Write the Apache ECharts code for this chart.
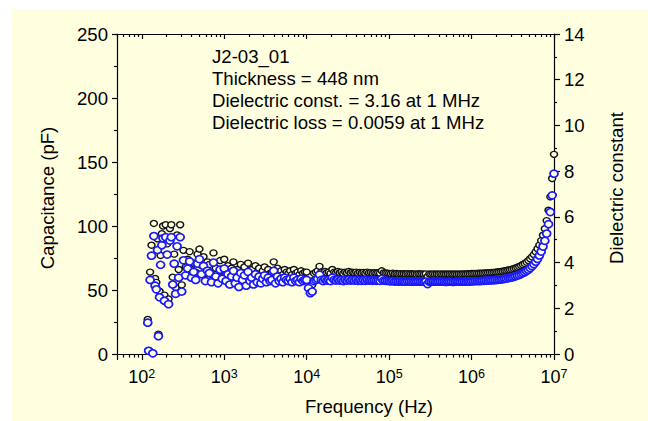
<!DOCTYPE html>
<html><head><meta charset="utf-8">
<script src="https://cdn.jsdelivr.net/npm/echarts@6/dist/echarts.min.js"></script>
<style>
html,body{margin:0;padding:0;background:#ffffff;width:648px;height:421px;overflow:hidden}
#c{position:absolute;left:12px;top:9px;width:636px;height:412px}
</style>
</head><body><div id="c"></div>
<script>
// Frequency (Hz)
const freq = [
 118,121,126,131,136,140,145,150,155,159,164,169,175,181,188,195,203,211,219,228,237,247,257,268,280,292,305,320,340,360,380,400,425,450,475,500,530,560,590,625,660,700,740,790,840,890,945,
 1000,1052,1108,1166,1227,1292,1359,1431,1506,1585,1668,1756,1848,1945,2047,2154,2268,2387,2512,2644,2783,2929,3083,3245,3415,3594,3783,3981,4190,4410,4642,4885,5142,5412,5696,5995,6310,6641,6989,7356,7743,8149,8577,9027,9501,
 10000,10520,11080,11660,12270,12920,13590,14310,15060,15850,16680,17560,18480,19450,20470,21540,22680,23870,25120,26440,27830,29290,30820,32440,34150,35940,37830,39810,41900,44100,46420,48850,51420,54120,56960,59950,63100,66410,69890,73560,77430,81490,85770,90270,95010,
 100000,105200,110800,116600,122700,129200,135900,143100,150600,158500,166800,175600,184800,194500,204700,215400,226800,238700,251200,264400,278300,292900,308200,324400,341500,359400,378300,398100,419000,441000,464200,488500,514200,541200,569600,599500,631000,664100,698900,735600,774300,814900,857700,902700,950100,
 1000000,1052000,1108000,1166000,1227000,1292000,1359000,1431000,1506000,1585000,1668000,1756000,1848000,1945000,2047000,2154000,2268000,2387000,2512000,2644000,2783000,2929000,3083000,3245000,3415000,3594000,3783000,3981000,4190000,4410000,4642000,4885000,5142000,5412000,5696000,5995000,6310000,6641000,6989000,7356000,7743000,8149000,8577000,9027000,9501000,10000000
];
// Capacitance (pF), left axis
const capacitance = [
 27,2.8,64,85,0.6,102,59,56,90,15.5,49,77,94,100,46,101,86,43,98,101,60,78,52,93,66,101,54,81,68,74,80,66,71,64,78,82,69,76,63,72,70,62,79,67,61,73,65,
 74,63,69,60,67,72,61,66,58,70,64,68,59,71,63,66,60,69,62,67,61,65,68,62,66,63,64,72,61,67,63,65,62,66,64,63,65,62,66,63,64,62,65,63,64,
 64,57,51,54,63,64,65,68.5,64,63,64.5,63.5,64,63,66,64,63.5,64.5,63.5,64,63,64,63.5,64.5,63.5,64,63.5,64,63.2,63.8,63.3,63.8,63.2,64,63.4,63.6,63.2,63.6,63.3,63.5,63.2,65,63.4,63.3,63.2,
 63,62.8,63.2,62.7,62.9,62.6,62.8,62.6,62.7,62.5,62.8,62.6,62.7,62.5,62.6,62.4,62.7,62.5,62.6,62.4,62.6,60.5,62.5,62.4,62.6,62.4,62.5,62.4,62.6,62.4,62.5,62.3,62.5,62.4,62.5,62.3,62.5,62.4,62.5,62.4,62.5,62.6,62.5,62.7,62.6,
 62.9,62.9,63.0,63.0,63.1,63.1,63.2,63.3,63.4,63.5,63.6,63.7,63.8,64.0,64.1,64.3,64.5,64.7,65.0,65.2,65.6,65.9,66.3,66.7,67.2,67.8,68.4,69.1,69.9,70.8,71.8,73.0,74.4,75.9,77.7,79.8,82.2,85.1,88.6,92.8,97.9,104.2,112.3,122.8,137.1,156
];
// Dielectric constant, right axis
const dielectric = [
 1.37,0.14,3.24,4.30,0.03,5.16,2.99,2.83,4.55,0.78,2.48,3.90,4.76,5.06,2.33,5.11,4.35,2.18,4.96,5.11,3.04,3.95,2.63,4.71,3.34,5.11,2.73,4.10,3.44,3.74,4.05,3.34,3.59,3.24,3.95,4.15,3.49,3.85,3.19,3.64,3.54,3.14,4.00,3.39,3.09,3.69,3.29,
 3.74,3.19,3.49,3.04,3.39,3.64,3.09,3.34,2.93,3.54,3.24,3.44,2.99,3.59,3.19,3.34,3.04,3.49,3.14,3.39,3.09,3.29,3.44,3.14,3.34,3.19,3.24,3.64,3.09,3.39,3.19,3.29,3.14,3.34,3.24,3.19,3.29,3.14,3.34,3.19,3.24,3.14,3.29,3.19,3.24,
 3.24,2.88,2.66,2.73,3.19,3.24,3.29,3.47,3.24,3.19,3.26,3.21,3.24,3.19,3.34,3.24,3.21,3.26,3.21,3.24,3.19,3.24,3.21,3.26,3.21,3.24,3.21,3.24,3.20,3.23,3.20,3.23,3.20,3.24,3.21,3.22,3.20,3.22,3.20,3.21,3.20,3.29,3.21,3.20,3.20,
 3.19,3.18,3.20,3.17,3.18,3.17,3.18,3.17,3.17,3.16,3.18,3.17,3.17,3.16,3.17,3.16,3.17,3.16,3.17,3.16,3.17,3.06,3.16,3.16,3.17,3.16,3.16,3.16,3.17,3.16,3.16,3.15,3.16,3.16,3.16,3.15,3.16,3.16,3.16,3.16,3.16,3.17,3.16,3.17,3.17,
 3.18,3.18,3.19,3.19,3.19,3.19,3.20,3.20,3.21,3.21,3.22,3.22,3.23,3.24,3.24,3.25,3.26,3.27,3.29,3.30,3.32,3.33,3.35,3.38,3.40,3.43,3.46,3.50,3.54,3.58,3.63,3.69,3.76,3.84,3.93,4.04,4.16,4.31,4.48,4.70,4.95,5.27,5.68,6.21,6.94,7.89
];
const xTickValues = [100, 1000, 10000, 100000, 1000000, 10000000];
const xTickExponents = ['2', '3', '4', '5', '6', '7'];
const annotation = ['J2-03_01', 'Thickness = 448 nm', 'Dielectric const. = 3.16 at 1 MHz', 'Dielectric loss = 0.0059 at 1 MHz'];

const FONT = '"Liberation Sans", Arial, sans-serif';
const FS = 18.6;
const BG = '#FFFFE0';
const capData = freq.map((f, i) => [f, capacitance[i]]);
const epsData = freq.map((f, i) => [f, dielectric[i]]);

function xLabel(v) {
  for (let i = 0; i < xTickValues.length; i++) {
    if (Math.abs(v - xTickValues[i]) / xTickValues[i] < 1e-6) return '{a|10}{b|' + xTickExponents[i] + '}';
  }
  return '';
}

const lineStyle = { color: '#000', width: 1.2 };
const baseX = {
  type: 'log', logBase: 10, min: 50, max: 10000000,
  axisLine: { show: true, onZero: false, lineStyle },
  splitLine: { show: false }, minorSplitLine: { show: false }
};
const txt = (t, extra) => Object.assign({ text: t, font: FS + 'px ' + FONT, fill: '#000' }, extra);

const chart = echarts.init(document.getElementById('c'), null, { renderer: 'svg' });
const annoGraphics = annotation.map((t, i) => ({
  type: 'text', x: 200, y: 47 + i * 22.3, silent: true,
  style: txt(t, { align: 'left', verticalAlign: 'middle', textAlign: 'left', textVerticalAlign: 'middle' })
}));
chart.setOption({
  backgroundColor: BG,
  animation: false,
  grid: { left: 105, right: 94, top: 25, bottom: 67, containLabel: false, outerBoundsMode: 'none', show: false },
  xAxis: [
    Object.assign({}, baseX, {
      position: 'bottom',
      axisTick: { show: true, inside: false, length: 6, lineStyle },
      minorTick: { show: true, splitNumber: 9, length: 3.5, lineStyle },
      axisLabel: {
        show: true, margin: 13, formatter: xLabel, color: '#000',
        rich: {
          a: { fontSize: 18, fontFamily: FONT, color: '#000', lineHeight: 20 },
          b: { fontSize: 12.5, fontFamily: FONT, color: '#000', verticalAlign: 'top', lineHeight: 12 }
        }
      }
    }),
    Object.assign({}, baseX, {
      position: 'top',
      axisTick: { show: true, inside: true, length: 5, lineStyle },
      minorTick: { show: true, splitNumber: 9, length: 3, lineStyle },
      axisLabel: { show: false }
    })
  ],
  yAxis: [
    {
      type: 'value', position: 'left', min: 0, max: 250, interval: 50,
      axisLine: { show: true, onZero: false, lineStyle },
      axisTick: { show: true, inside: false, length: 5, lineStyle },
      minorTick: { show: true, splitNumber: 2, length: 3, lineStyle },
      splitLine: { show: false }, minorSplitLine: { show: false },
      axisLabel: { margin: 9, fontSize: FS, fontFamily: FONT, color: '#000' }
    },
    {
      type: 'value', position: 'right', min: 0, max: 14, interval: 2,
      axisLine: { show: true, onZero: false, lineStyle },
      axisTick: { show: true, inside: false, length: 6, lineStyle },
      minorTick: { show: true, splitNumber: 2, length: 3, lineStyle },
      splitLine: { show: false }, minorSplitLine: { show: false },
      axisLabel: { margin: 10, fontSize: FS, fontFamily: FONT, color: '#000' }
    }
  ],
  series: [
    {
      name: 'Capacitance', type: 'scatter', xAxisIndex: 0, yAxisIndex: 0, data: capData,
      symbol: 'circle', symbolSize: [7, 6], clip: false,
      itemStyle: { color: BG, borderColor: '#111', borderWidth: 1.4, opacity: 1 },
      emphasis: { disabled: true }, z: 2
    },
    {
      name: 'Dielectric constant', type: 'scatter', xAxisIndex: 0, yAxisIndex: 1, data: epsData,
      symbol: 'circle', symbolSize: [8, 7], clip: false,
      itemStyle: { color: BG, borderColor: '#1a1aff', borderWidth: 1.7, opacity: 1 },
      emphasis: { disabled: true }, z: 3
    }
  ],
  graphic: annoGraphics.concat([
    { type: 'text', x: 35.5, y: 189, rotation: Math.PI / 2, silent: true,
      style: txt('Capacitance (pF)', { align: 'center', verticalAlign: 'middle', textAlign: 'center', textVerticalAlign: 'middle' }) },
    { type: 'text', x: 604.5, y: 179, rotation: Math.PI / 2, silent: true,
      style: txt('Dielectric constant', { align: 'center', verticalAlign: 'middle', textAlign: 'center', textVerticalAlign: 'middle' }) },
    { type: 'text', x: 357, y: 397, silent: true,
      style: txt('Frequency (Hz)', { align: 'center', verticalAlign: 'middle', textAlign: 'center', textVerticalAlign: 'middle' }) }
  ])
});
</script>
</body></html>
